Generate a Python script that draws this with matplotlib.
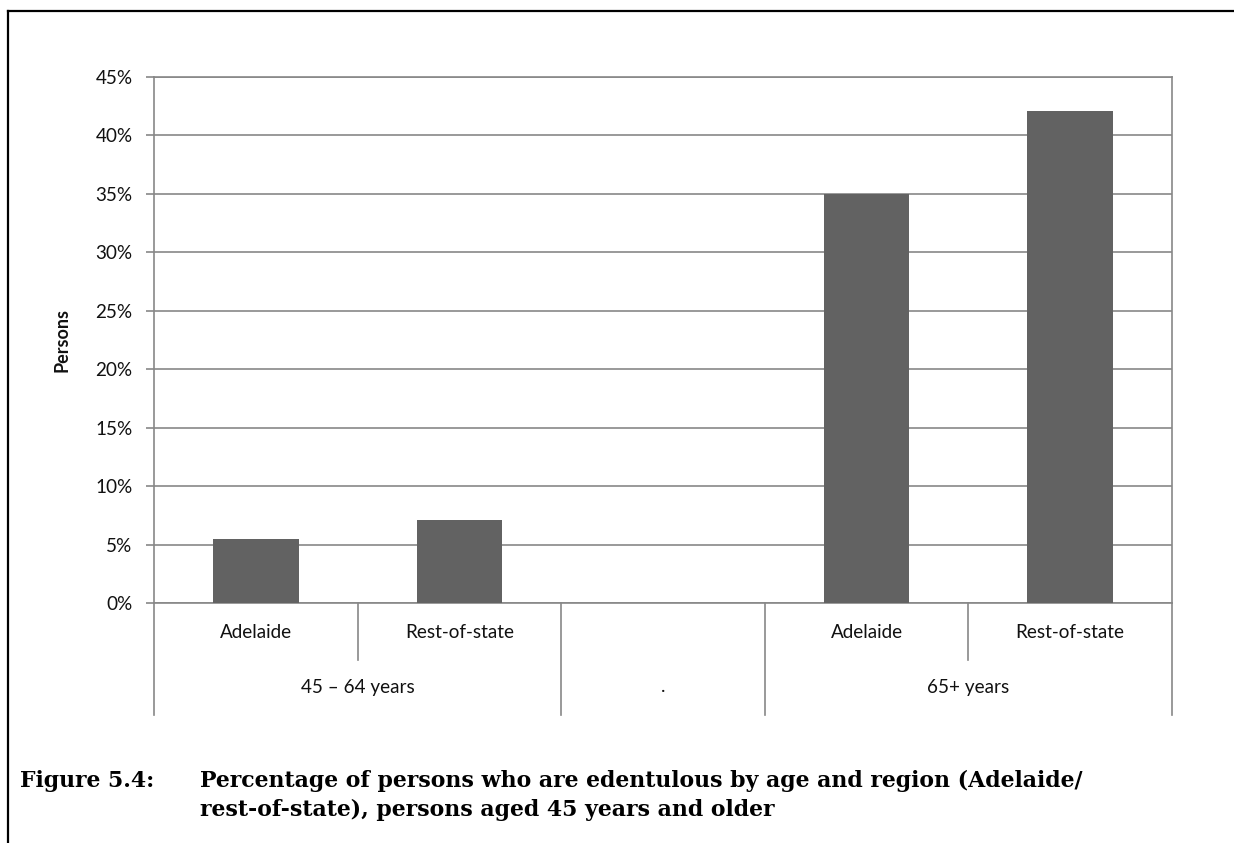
import matplotlib
matplotlib.use("Agg")
import matplotlib.pyplot as plt
import numpy as np
from matplotlib.lines import Line2D

# ---- data ----
regions = ["Adelaide", "Rest-of-state", "", "Adelaide", "Rest-of-state"]
age_groups = ["45 \u2013 64 years", ".", "65+ years"]
age_group_spans = [(0, 1), (2, 2), (3, 4)]
values = [5.5, 7.1, np.nan, 35.0, 42.1]
yticks = [0, 5, 10, 15, 20, 25, 30, 35, 40, 45]
ytick_labels = ["0%", "5%", "10%", "15%", "20%", "25%", "30%", "35%", "40%", "45%"]

W, H = 1234, 843
fig = plt.figure(figsize=(W / 100, H / 100), dpi=100)
fig.patch.set_facecolor("white")

GRID = "#878787"
BAR = "#626262"
TICKFONT = "Lato"
TXT = "#111111"
FS = 13.6

ax = fig.add_axes([154 / W, 1 - 603 / H, (1172 - 154) / W, (603 - 77) / H])
x = np.arange(len(regions))
ax.bar(x, values, width=0.42, color=BAR, zorder=3)
ax.set_xlim(-0.5, len(regions) - 0.5)
ax.set_ylim(0, 45)
ax.set_yticks(yticks)
ax.set_yticklabels(ytick_labels, fontfamily=TICKFONT, fontsize=FS, color=TXT)
ax.yaxis.grid(True, color=GRID, linewidth=1.2, zorder=0)
ax.set_axisbelow(True)
for s in ax.spines.values():
    s.set_color(GRID)
    s.set_linewidth(1.2)
ax.tick_params(axis="y", direction="out", length=5.5, width=1.2, color=GRID, pad=10)
ax.set_xticks([])

# hierarchical category axis
trans = ax.get_xaxis_transform()
axh = 603 - 77
y_short = -(660 - 603) / axh
y_full = -(715 - 603) / axh
full_bounds = [-0.5] + [b + 0.5 for (_, b) in age_group_spans]
short_bounds = []
for a, b in age_group_spans:
    short_bounds += [k + 0.5 for k in range(a, b)]
for xb in full_bounds:
    ax.add_line(Line2D([xb, xb], [0, y_full], transform=trans, color=GRID,
                       linewidth=1.2, clip_on=False))
for xb in short_bounds:
    ax.add_line(Line2D([xb, xb], [0, y_short], transform=trans, color=GRID,
                       linewidth=1.2, clip_on=False))
y_t1 = -(633 - 603) / axh
y_t2 = -(687 - 603) / axh
for xi, lab in zip(x, regions):
    ax.text(xi, y_t1, lab, transform=trans, ha="center", va="center",
            fontfamily=TICKFONT, fontsize=FS, color=TXT)
for (a, b), lab in zip(age_group_spans, age_groups):
    ax.text((a + b) / 2, y_t2, lab, transform=trans, ha="center", va="center",
            fontfamily=TICKFONT, fontsize=FS, color=TXT)

fig.text(62 / W, 1 - 340 / H, "Persons", rotation=90, ha="center", va="center",
         fontfamily=TICKFONT, fontweight="bold", fontsize=13, color=TXT)

# frame lines (top and left)
fig.add_artist(Line2D([8 / W, 1.0], [1 - 11 / H, 1 - 11 / H], transform=fig.transFigure,
                      color="black", linewidth=1.6))
fig.add_artist(Line2D([8 / W, 8 / W], [1 - 11 / H, 0.0], transform=fig.transFigure,
                      color="black", linewidth=1.6))

# caption
cap_font = dict(fontfamily="DejaVu Serif", fontweight="bold", fontsize=15.8, color="black")
fig.text(20 / W, 1 - 781 / H, "Figure 5.4:", ha="left", va="center", **cap_font)
fig.text(200 / W, 1 - 781 / H,
         "Percentage of persons who are edentulous by age and region (Adelaide/",
         ha="left", va="center", **cap_font)
fig.text(200 / W, 1 - 810 / H,
         "rest-of-state), persons aged 45 years and older",
         ha="left", va="center", **cap_font)

fig.savefig("out.png", dpi=100, facecolor="white")
